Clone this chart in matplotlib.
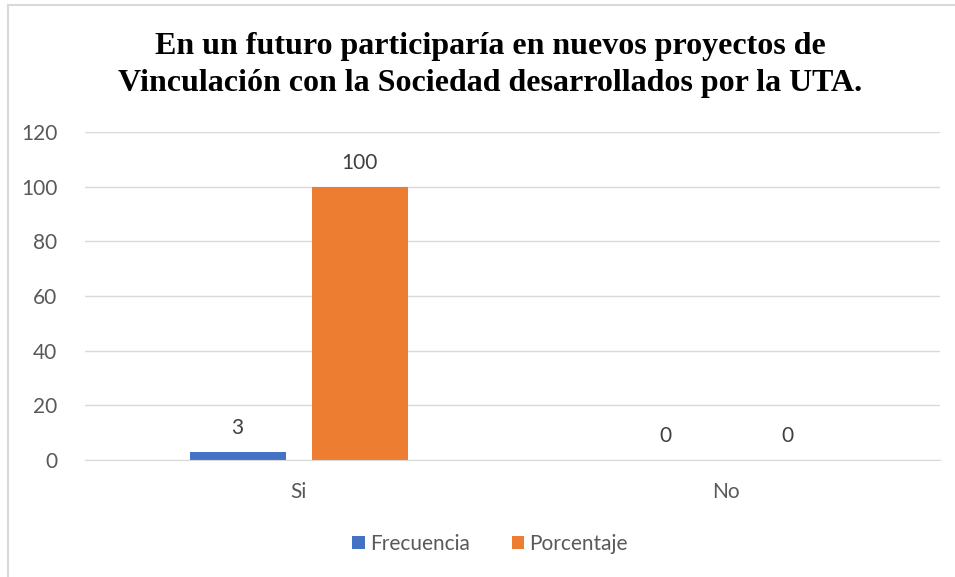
import matplotlib.pyplot as plt
from matplotlib.patches import Rectangle
import numpy as np

# Datos del grafico
categorias = ["Si", "No"]
frecuencia = [3, 0]
porcentaje = [100, 0]
series = ["Frecuencia", "Porcentaje"]
colores = ["#4472C4", "#ED7D31"]

titulo = ("En un futuro participaría en nuevos proyectos de\n"
          "Vinculación con la Sociedad desarrollados por la UTA.")

plt.rcParams['font.family'] = ['Lato', 'DejaVu Sans']
gris = "#595959"
tam = 15

fig = plt.figure(figsize=(9.55, 5.77), dpi=100)
ax = fig.add_axes([85/955, 1-460/577, 855/955, 328/577])

# marco del grafico (solo se ve borde izquierdo y superior)
fig.patches.append(Rectangle((8/955, -0.1), 1.2, 1-5/577+0.1, transform=fig.transFigure,
                             fill=False, edgecolor="#D9D9D9", linewidth=1.5))

x = np.arange(len(categorias))
ancho = 0.225
desp = 0.143
b1 = ax.bar(x - desp, frecuencia, ancho, color=colores[0], label=series[0], zorder=3)
b2 = ax.bar(x + desp, porcentaje, ancho, color=colores[1], label=series[1], zorder=3)
for barras in (b1, b2):
    ax.bar_label(barras, padding=10, fontsize=tam, color="#404040")

ax.set_xlim(-0.5, 1.5)
ax.set_ylim(0, 120)
ax.set_yticks(range(0, 121, 20))
ax.set_xticks(x)
ax.set_xticklabels(categorias)
ax.grid(axis="y", color="#D9D9D9", linewidth=1, zorder=0)
for s in ["top", "right", "left"]:
    ax.spines[s].set_visible(False)
ax.spines["bottom"].set_color("#D9D9D9")
ax.spines["bottom"].set_zorder(4)
ax.tick_params(axis="both", length=0, labelsize=tam, colors=gris)
ax.tick_params(axis="y", pad=20)
ax.tick_params(axis="x", pad=16)

fig.text(490/955, 1-65/577, titulo, ha="center", va="center", fontsize=23,
         fontweight="bold", family="Liberation Serif", linespacing=1.32)

fig.legend(loc="center", bbox_to_anchor=(490/955, 1-544/577), ncol=2, frameon=False,
           fontsize=tam, labelcolor=gris, handlelength=0.6, handleheight=0.6,
           handletextpad=0.25, columnspacing=2.0)

plt.savefig("out.png", dpi=100)
